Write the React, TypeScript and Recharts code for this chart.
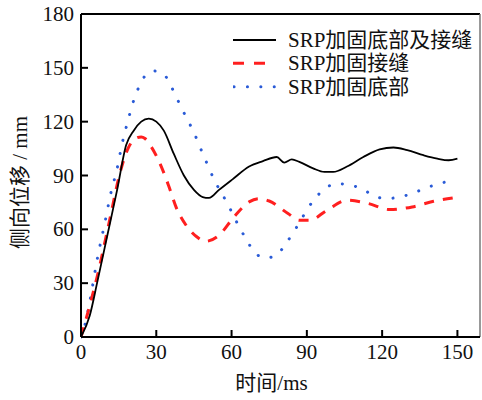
import { LineChart, Line, XAxis, YAxis, Legend, ReferenceLine, Label } from "recharts";

// 时间 (ms) / 侧向位移 (mm)
const bothTime = [0, 3.5, 6.4, 10.4, 14.4, 18, 21, 24, 27, 30, 33, 37, 41, 45, 48.5, 51, 55, 60.5, 67, 72.5, 78, 81, 84, 87, 92.5, 97, 100.5, 106, 112.5, 119, 124.5, 130, 136.5, 142, 146.5, 150];
const bothDisp = [0, 12, 30, 56, 82, 107, 115, 120, 121.7, 120, 115, 102, 90, 82, 78, 77.5, 82, 88, 95, 98, 100.3, 97.2, 99, 97.6, 94, 92, 92, 95, 100.3, 104.5, 105.6, 104.1, 101.3, 99.4, 98.5, 99.4];

const jointTime = [0, 3.7, 6.4, 11.7, 15.1, 18.4, 21.7, 24, 25.5, 28, 32, 35, 38, 42, 46, 49.6, 55, 61, 67, 71, 75, 82.5, 87, 91, 98, 106, 114.5, 123, 132, 140.5, 149.5];
const jointDisp = [0, 18.6, 33.4, 67, 89, 104, 110.6, 111.5, 110.6, 106, 95, 84, 72, 62, 56, 53.3, 56.7, 67, 75.3, 77.1, 75.8, 68.8, 65, 65, 70.6, 76.2, 74.4, 71, 72.5, 75.6, 77.8];

const baseTime = [0, 1.7, 3.7, 6.4, 9.7, 11.7, 14.4, 16.4, 17.7, 19.1, 20.4, 22.1, 24.1, 28.7, 33, 35.7, 38.1, 40.4, 42.7, 45.1, 47.1, 49.1, 51.2, 53.5, 55.9, 58.5, 60.9, 63.2, 65.9, 68.5, 73.5, 78.1, 81.6, 84.5, 87.2, 89.9, 92.9, 96.9, 101.9, 107.2, 111.9, 116.3, 121.6, 126.8, 131.9, 136.8, 141.9, 147];
const baseDisp = [0, 7.5, 21.4, 42.8, 65, 79, 93.9, 107.8, 115.2, 122.6, 129.2, 136, 142.5, 148.3, 146.4, 140.3, 133.4, 126.7, 120.4, 113.7, 106.9, 100.3, 93.5, 86.4, 80.5, 74, 67.3, 60.8, 54.5, 48.3, 44, 45.9, 52, 58, 64.1, 70.6, 76.6, 82.3, 85.5, 84.6, 82.7, 79, 77.1, 78, 79.9, 82.7, 85.1, 87];

const seriesNames = ["SRP加固底部及接缝", "SRP加固接缝", "SRP加固底部"];
const xTicks = [0, 30, 60, 90, 120, 150];
const yTicks = [0, 30, 60, 90, 120, 150, 180];

const FONT = "'Liberation Serif', 'Noto Sans CJK SC', serif";
const FS = 21;

const toPoints = (t: number[], d: number[]) => t.map((x, i) => ({ t: x, v: d[i] }));

const XTick = (props: any) => {
    const { x, y, payload } = props;
    return (
        <g>
            {payload.value !== 0 && <line x1={x} y1={y} x2={x} y2={y - 7} stroke="#000" strokeWidth={2} />}
            <text x={x} y={y + 15} textAnchor="middle" dominantBaseline="central" fontFamily={FONT} fontSize={FS} fill="#111">
                {payload.value}
            </text>
        </g>
    );
};

const YTick = (props: any) => {
    const { x, y, payload } = props;
    return (
        <g>
            {payload.value !== 0 && payload.value !== 180 && <line x1={x} y1={y} x2={x + 7} y2={y} stroke="#000" strokeWidth={2} />}
            <text x={x - 7} y={y} textAnchor="end" dominantBaseline="central" fontFamily={FONT} fontSize={FS} fill="#111">
                {payload.value}
            </text>
        </g>
    );
};

const LegendBox = () => (
    <svg width={250} height={76}>
        <line x1={0} y1={14} x2={43} y2={14} stroke="#000" strokeWidth={1.8} />
        <line x1={0} y1={37.3} x2={33} y2={37.3} stroke="#ff1f1f" strokeWidth={3} strokeDasharray="11 10" />
        <line x1={1} y1={60.7} x2={43} y2={60.7} stroke="#2a5bd7" strokeWidth={3} strokeLinecap="round" strokeDasharray="0.1 13.3" />
        {seriesNames.map((n, i) => (
            <text key={n} x={55} y={14 + i * 23.3} dominantBaseline="central" fontFamily={FONT} fontSize={FS} fill="#111">
                {n}
            </text>
        ))}
    </svg>
);

export default function App() {
    return (
        <div style={{ position: "absolute", left: 0, top: 0, background: "#fff" }}>
            <LineChart width={482} height={400} margin={{ top: 14, right: 2, left: 0, bottom: 0 }}>
                <XAxis
                    type="number"
                    dataKey="t"
                    domain={[0, 159]}
                    ticks={xTicks}
                    allowDataOverflow
                    height={63}
                    tickSize={0}
                    tickMargin={0}
                    tickLine={false}
                    axisLine={{ stroke: "#000", strokeWidth: 2 }}
                    tick={<XTick />}
                >
                    <Label
                        content={(p: any) => (
                            <text x={p.viewBox.x + p.viewBox.width / 2 - 9} y={p.viewBox.y + 46} textAnchor="middle" dominantBaseline="central" fontFamily={FONT} fontSize={FS} fill="#111">
                                时间/ms
                            </text>
                        )}
                    />
                </XAxis>
                <YAxis
                    type="number"
                    domain={[0, 180]}
                    ticks={yTicks}
                    width={81}
                    tickSize={0}
                    tickMargin={0}
                    tickLine={false}
                    axisLine={{ stroke: "#000", strokeWidth: 2 }}
                    tick={<YTick />}
                >
                    <Label
                        content={(p: any) => {
                            const cx = 20;
                            const cy = p.viewBox.y + p.viewBox.height / 2 + 7;
                            return (
                                <text x={cx} y={cy} transform={`rotate(-90 ${cx} ${cy})`} textAnchor="middle" dominantBaseline="central" fontFamily={FONT} fontSize={FS} fill="#111">
                                    侧向位移 / mm
                                </text>
                            );
                        }}
                    />
                </YAxis>
                <ReferenceLine y={180} stroke="#000" strokeWidth={2} />
                <ReferenceLine x={159} stroke="#777" strokeWidth={1.5} />
                <Line data={toPoints(baseTime, baseDisp)} dataKey="v" name={seriesNames[2]} type="monotone" stroke="#2a5bd7" strokeWidth={3} strokeLinecap="round" strokeDasharray="0.1 13.3" dot={false} activeDot={false} isAnimationActive={false} />
                <Line data={toPoints(jointTime, jointDisp)} dataKey="v" name={seriesNames[1]} type="monotone" stroke="#ff1f1f" strokeWidth={3} strokeDasharray="10 9" dot={false} activeDot={false} isAnimationActive={false} />
                <Line data={toPoints(bothTime, bothDisp)} dataKey="v" name={seriesNames[0]} type="monotone" stroke="#000" strokeWidth={1.8} dot={false} activeDot={false} isAnimationActive={false} />
                <Legend layout="vertical" align="center" verticalAlign="middle" content={<LegendBox />} wrapperStyle={{ position: "absolute", left: 233, top: 26, width: 250, height: 76 }} />
            </LineChart>
        </div>
    );
}
